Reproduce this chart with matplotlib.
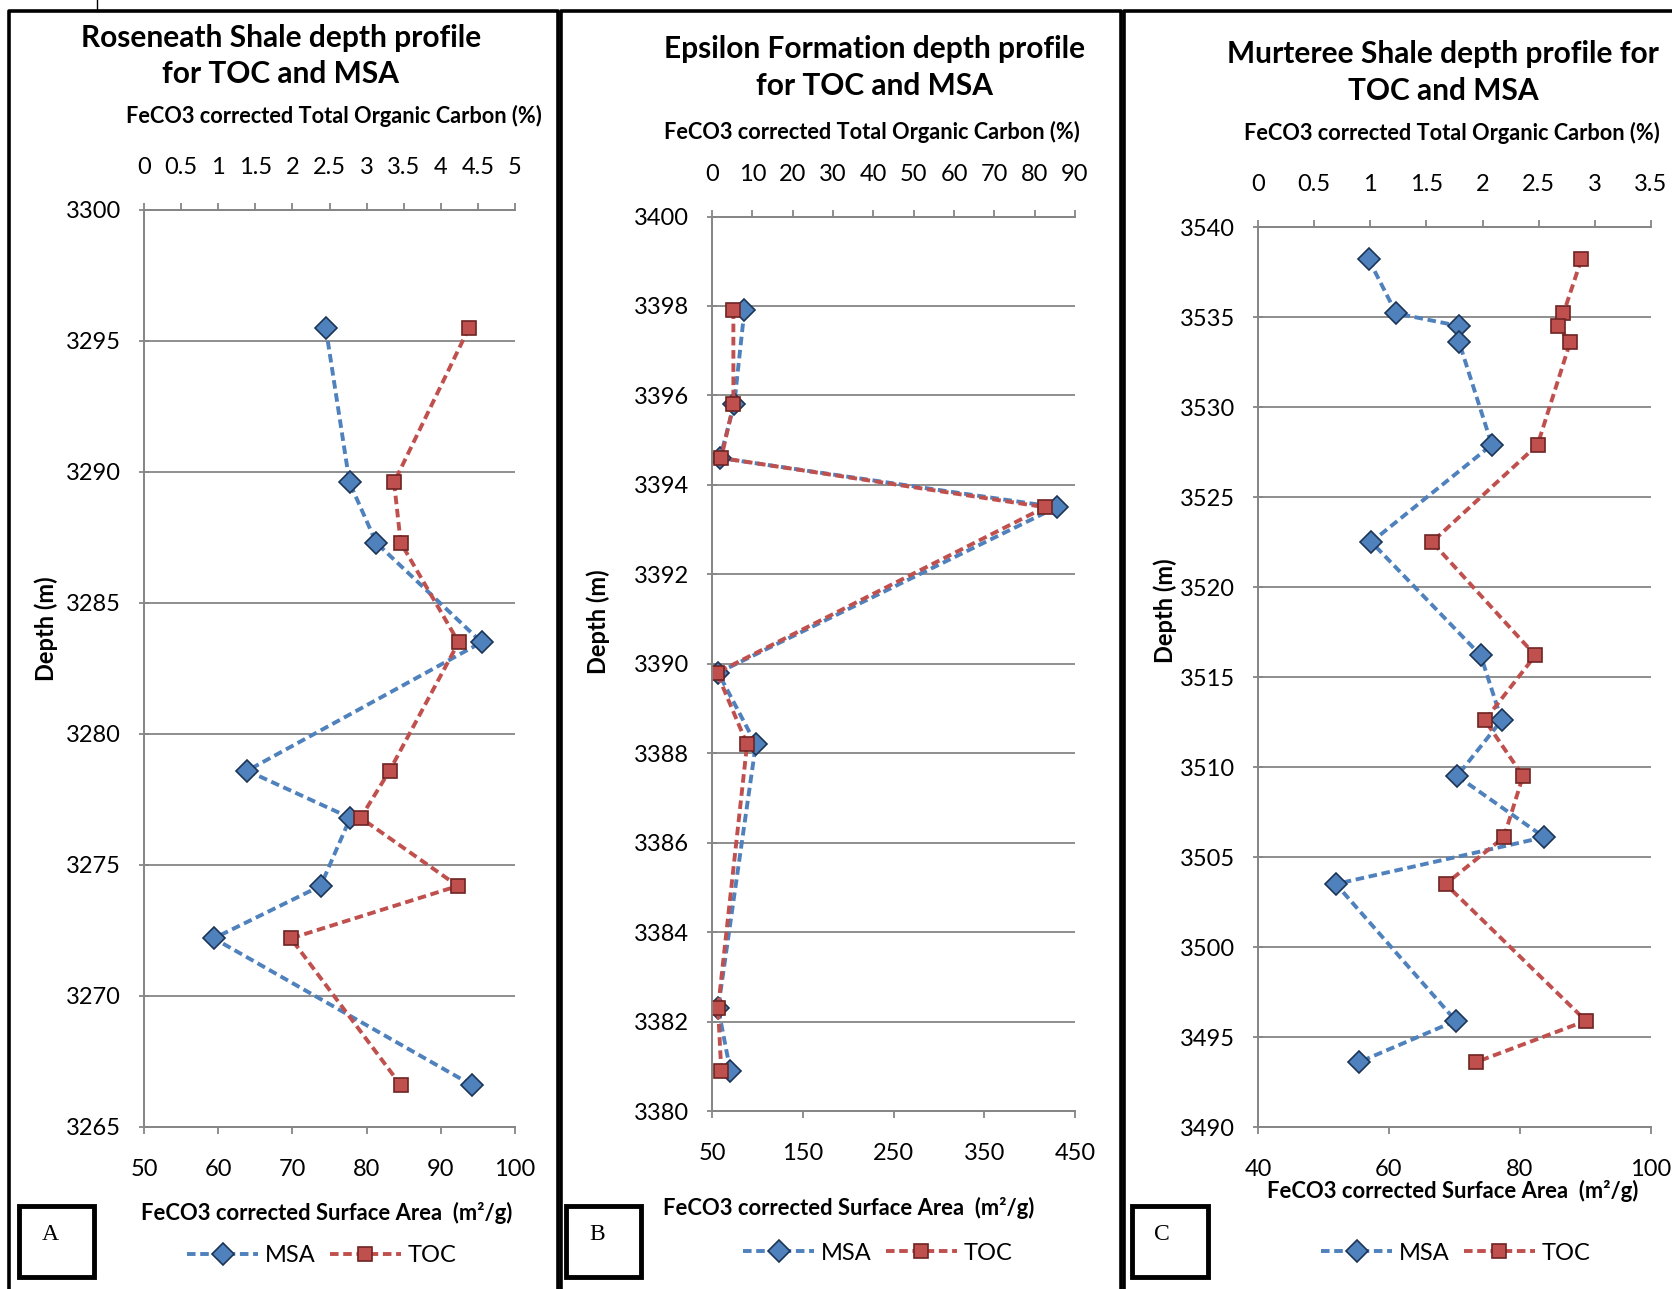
import matplotlib
matplotlib.use('Agg')
import matplotlib.pyplot as plt
from matplotlib.lines import Line2D
from matplotlib.patches import Rectangle
from matplotlib.ticker import FixedLocator, FuncFormatter

plt.rcParams['font.family'] = ['Lato', 'DejaVu Sans']

# Roseneath Shale (A)
a_depth = [3295.5, 3289.6, 3287.3, 3283.5, 3278.6, 3276.8, 3274.2, 3272.2, 3266.6]
a_msa = [74.5, 77.7, 81.3, 95.5, 63.9, 77.8, 73.8, 59.4, 94.2]
a_toc = [4.38, 3.37, 3.46, 4.24, 3.31, 2.92, 4.23, 1.98, 3.46]

# Epsilon Formation (B)
b_depth = [3397.9, 3395.8, 3394.6, 3393.5, 3389.8, 3388.2, 3382.3, 3380.9]
b_msa = [85.7, 74.5, 58.8, 429.7, 56.8, 98.3, 56.8, 70.2]
b_toc = [5.3, 5.3, 2.3, 82.6, 1.2, 8.7, 1.5, 2.3]

# Murteree Shale (C)
c_depth = [3538.2, 3535.2, 3534.5, 3533.6, 3527.9, 3522.5, 3516.2, 3512.6,
           3509.5, 3506.1, 3503.5, 3495.9, 3493.6]
c_msa = [56.9, 61.1, 70.7, 70.7, 75.7, 57.3, 74.0, 77.2, 70.4, 83.7, 51.9, 70.2, 55.4]
c_toc = [2.88, 2.72, 2.67, 2.78, 2.49, 1.55, 2.47, 2.02, 2.36, 2.19, 1.67, 2.92, 1.94]

# axis ticks
a_yticks = [3265, 3270, 3275, 3280, 3285, 3290, 3295, 3300]
a_xticks = [50, 60, 70, 80, 90, 100]
a_tticks = [0, 0.5, 1, 1.5, 2, 2.5, 3, 3.5, 4, 4.5, 5]
b_yticks = [3380, 3382, 3384, 3386, 3388, 3390, 3392, 3394, 3396, 3398, 3400]
b_xticks = [50, 150, 250, 350, 450]
b_tticks = [0, 10, 20, 30, 40, 50, 60, 70, 80, 90]
c_yticks = [3490, 3495, 3500, 3505, 3510, 3515, 3520, 3525, 3530, 3535, 3540]
c_xticks = [40, 60, 80, 100]
c_tticks = [0, 0.5, 1, 1.5, 2, 2.5, 3, 3.5]

titles = ['Roseneath Shale depth profile\nfor TOC and MSA',
          'Epsilon Formation depth profile\nfor TOC and MSA',
          'Murteree Shale depth profile for\nTOC and MSA']
top_label = 'FeCO3 corrected Total Organic Carbon (%)'
bottom_label = 'FeCO3 corrected Surface Area  (m\u00b2/g)'
y_label = 'Depth (m)'
panel_letters = ['A', 'B', 'C']

W, H = 1672, 1289
BLUE, BLUE_EDGE = '#4F81BD', '#1C3557'
RED, RED_EDGE = '#C0504D', '#6E2422'
GRID = '#868686'

fig = plt.figure(figsize=(W / 100, H / 100), dpi=100)


def fx(px):
    return px / W


def fy(py):
    return 1 - py / H


def fmt(v, pos):
    return '%g' % v


def draw_panel(depth, msa, toc, yticks, xticks, tticks, lay, i):
    x0, y0, x1, y1 = lay['axes']
    ax = fig.add_axes([fx(x0), fy(y1), fx(x1 - x0), (y1 - y0) / H])
    ax2 = ax.twiny()

    l1, = ax.plot(msa, depth, color=BLUE, lw=2.8, dashes=(2.2, 1.2),
                  marker='D', ms=11, mfc=BLUE, mec=BLUE_EDGE, mew=1.2, label='MSA')
    l2, = ax2.plot(toc, depth, color=RED, lw=2.8, dashes=(2.2, 1.2),
                   marker='s', ms=10.5, mfc=RED, mec=RED_EDGE, mew=1.2, label='TOC')

    ax.set_ylim(yticks[0], yticks[-1])
    ax.set_xlim(xticks[0], xticks[-1])
    ax2.set_xlim(tticks[0], tticks[-1])
    ax.yaxis.set_major_locator(FixedLocator(yticks))
    ax.xaxis.set_major_locator(FixedLocator(xticks))
    ax2.xaxis.set_major_locator(FixedLocator(tticks))
    ax.xaxis.set_major_formatter(FuncFormatter(fmt))
    ax2.xaxis.set_major_formatter(FuncFormatter(fmt))
    ax.yaxis.grid(True, color=GRID, lw=1.3)
    ax.set_axisbelow(True)

    for a in (ax, ax2):
        a.spines['right'].set_visible(False)
        for s in ('left', 'top', 'bottom'):
            a.spines[s].set_color(GRID)
            a.spines[s].set_linewidth(1.3)
        a.patch.set_visible(False)
    ax.tick_params(axis='y', direction='inout', length=7, width=1.3, color=GRID,
                   labelsize=17, pad=13)
    ax.tick_params(axis='x', direction='out', length=5, width=1.3, color=GRID,
                   labelsize=17, pad=18)
    ax2.tick_params(axis='x', direction='out', length=5, width=1.3, color=GRID,
                    labelsize=17, pad=18)

    tx, ty1, ty2 = lay['title']
    fig.text(fx(tx), fy((ty1 + ty2) / 2), titles[i], ha='center', va='center',
             fontsize=21.5, fontweight='bold', linespacing=1.35)
    fig.text(fx(lay['top'][0]), fy(lay['top'][1]), top_label, ha='center',
             va='center', fontsize=15.7, fontweight='bold')
    fig.text(fx(lay['bottom'][0]), fy(lay['bottom'][1]), bottom_label, ha='center',
             va='center', fontsize=15.8, fontweight='bold')
    fig.text(fx(lay['ylab'][0]), fy(lay['ylab'][1]), y_label, ha='center',
             va='center', rotation=90, fontsize=17, fontweight='bold')

    fig.legend([l1, l2], ['MSA', 'TOC'], loc='center', ncol=2, frameon=False,
               bbox_to_anchor=(fx(lay['legend'][0]), fy(lay['legend'][1])),
               fontsize=17, handlelength=3.0, handletextpad=0.3, columnspacing=0.6)

    bx0, by0, bx1, by1 = lay['box']
    fig.add_artist(Rectangle((fx(bx0), fy(by1)), fx(bx1 - bx0), (by1 - by0) / H,
                             transform=fig.transFigure, fill=False, lw=3.5, ec='black'))
    fig.text(fx(lay['letter'][0]), fy(lay['letter'][1]), panel_letters[i],
             ha='center', va='center', fontsize=17, family='Liberation Serif')

    fl, fr = lay['frame']
    pts_x = [fl, fl, fr, fr] if fr is not None else [fl, fl, W + 10]
    pts_y = [H + 10, 11, 11, H + 10] if fr is not None else [H + 10, 11, 11]
    fig.add_artist(Line2D([fx(p) for p in pts_x], [fy(p) for p in pts_y],
                          transform=fig.transFigure, color='black', lw=2.6))


layouts = [
    dict(axes=(144, 210, 515, 1127), title=(281, 37, 75), top=(334, 116),
         bottom=(327, 1213), ylab=(46, 629), legend=(322, 1256),
         box=(19, 1206, 94, 1277), letter=(50, 1234), frame=(9, 558)),
    dict(axes=(712, 216.5, 1075, 1111), title=(875, 49, 86), top=(872, 132),
         bottom=(849, 1208), ylab=(598, 622), legend=(878, 1253),
         box=(566, 1206, 641, 1277), letter=(597, 1234), frame=(561, 1121)),
    dict(axes=(1258, 227, 1651, 1127), title=(1443, 53, 92), top=(1452, 133),
         bottom=(1453, 1191), ylab=(1165, 611), legend=(1456, 1253),
         box=(1132, 1206, 1208, 1277), letter=(1162, 1234), frame=(1124, None)),
]

draw_panel(a_depth, a_msa, a_toc, a_yticks, a_xticks, a_tticks, layouts[0], 0)
draw_panel(b_depth, b_msa, b_toc, b_yticks, b_xticks, b_tticks, layouts[1], 1)
draw_panel(c_depth, c_msa, c_toc, c_yticks, c_xticks, c_tticks, layouts[2], 2)

# small mark above the first frame
fig.add_artist(Line2D([fx(97), fx(97)], [fy(0), fy(11)], transform=fig.transFigure,
                      color='black', lw=1))

fig.savefig('out.png', dpi=100, facecolor='white')
